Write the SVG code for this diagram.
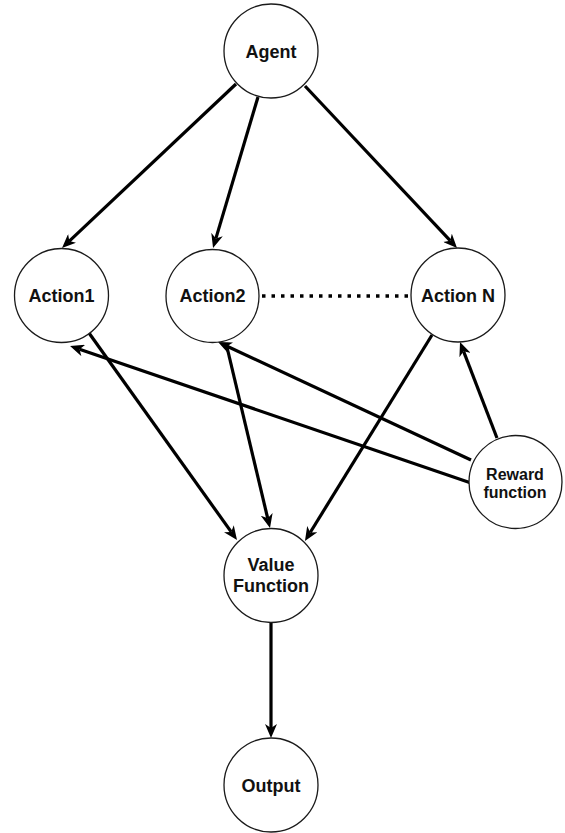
<svg xmlns="http://www.w3.org/2000/svg" width="565" height="833" viewBox="0 0 565 833">
<style>
.node circle{fill:#fff;stroke:#1a1a1a;stroke-width:1.3}
.node text{font-family:"Liberation Sans",Arial,sans-serif;font-weight:bold;font-size:18px;fill:#111;text-anchor:middle}
.node text.sm{font-size:16px}
.edge{stroke:#000;stroke-width:3.2;fill:none;marker-end:url(#arr)}
.dots{stroke:#000;stroke-width:3.5;stroke-dasharray:3.5 6;fill:none}
</style>
<defs>
<marker id="arr" markerUnits="userSpaceOnUse" viewBox="0 0 14 12" refX="4" refY="6" markerWidth="14" markerHeight="12" orient="auto">
<path d="M0,0 L14,6 L0,12 L4,6 Z" fill="#000"/>
</marker>
</defs>
<g id="connectors">
<line class="edge" x1="236" y1="84" x2="69.3" y2="241.1"/>
<line class="edge" x1="258" y1="97" x2="215.9" y2="238.4"/>
<line class="edge" x1="305" y1="86" x2="450.2" y2="240.7"/>
<line class="edge" x1="89" y1="333" x2="231.2" y2="531.9"/>
<line class="edge" x1="226" y1="343" x2="267.7" y2="518.3"/>
<line class="edge" x1="432" y1="335" x2="310.2" y2="532.5"/>
<line class="edge" x1="471" y1="483" x2="79.5" y2="349.2"/>
<line class="edge" x1="471" y1="460" x2="227.1" y2="346.2"/>
<line class="edge" x1="497" y1="438" x2="463.6" y2="351.3"/>
<line class="edge" x1="271" y1="622" x2="271" y2="728"/>
<line class="dots" x1="262" y1="296" x2="410" y2="296"/>
</g>
<g id="agent" class="node"><circle cx="271" cy="51" r="47"/><text x="271" y="57.5">Agent</text></g>
<g id="action1" class="node"><circle cx="61.5" cy="295.5" r="47"/><text x="61.5" y="301.5">Action1</text></g>
<g id="action2" class="node"><circle cx="212.5" cy="296" r="46.5"/><text x="212.5" y="301.5">Action2</text></g>
<g id="actionN" class="node"><circle cx="458" cy="295" r="47"/><text x="458" y="301.5">Action N</text></g>
<g id="reward" class="node"><circle cx="515.5" cy="482" r="46.5"/><text class="sm" x="515" y="480">Reward</text><text class="sm" x="515" y="497.5">function</text></g>
<g id="value" class="node"><circle cx="271" cy="575.5" r="47"/><text x="271" y="571">Value</text><text x="271" y="592">Function</text></g>
<g id="output" class="node"><circle cx="271" cy="785" r="47"/><text x="271" y="792">Output</text></g>
</svg>
